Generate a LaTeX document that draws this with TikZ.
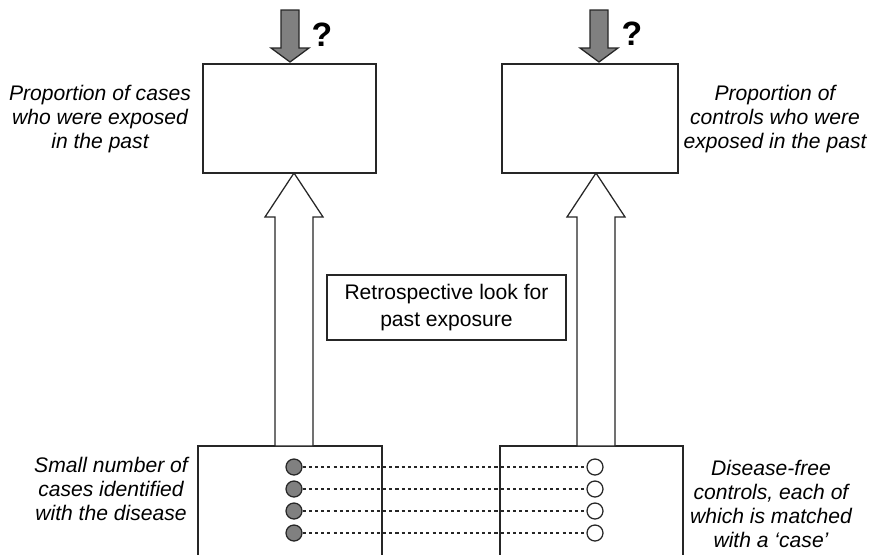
\documentclass[tikz,border=0pt]{standalone}
\usepackage{fontspec}
\setmainfont{Liberation Sans}
\usetikzlibrary{positioning}

\tikzset{
  box/.style={draw=black!85, line width=0.9pt, inner sep=0pt},
  label/.style={align=center, font=\itshape\fontsize{15}{17}\selectfont},
  hollow/.style={draw=black!85, line width=0.9pt, fill=white},
  gray arrow/.style={draw=black!85, line width=0.9pt, fill=black!50},
  query/.style={font=\bfseries\fontsize{24}{24}\selectfont, inner sep=0pt},
  case/.style={circle, draw=black!85, line width=0.9pt, fill=black!50, minimum size=0.4cm, inner sep=0pt},
  control/.style={circle, draw=black!85, line width=0.9pt, fill=white, minimum size=0.4cm, inner sep=0pt},
  match/.style={black!85, line width=2.1pt, dash pattern=on 2.2pt off 2.2pt}
}

\begin{document}
\begin{tikzpicture}[x=0.025cm, y=-0.025cm]
        \useasboundingbox (0,0) rectangle (877,554);
        \clip (0,0) rectangle (877,554);

        % Define the boxes
        \node[box, minimum width=4.325cm, minimum height=2.725cm] (casepast) at (289.5,118.5) {};
        \node[box, minimum width=4.4cm, minimum height=2.725cm] (ctrlpast) at (590,118.5) {};
        \node[box, minimum width=4.6cm, minimum height=3.1cm] (casenow) at (290,508) {};
        \node[box, minimum width=4.575cm, minimum height=3.1cm] (ctrlnow) at (591.5,508) {};
        \node[box, minimum width=5.975cm, minimum height=1.625cm, align=center,
              font=\fontsize{15}{19}\selectfont] (look) at (446.5,307.5)
              {Retrospective look for\\past exposure};

        % Labels
        \node[label] (casepastlbl) at (100,119) {Proportion of cases\\who were exposed\\in the past};
        \node[label] (ctrlpastlbl) at (775,119) {Proportion of\\controls who were\\exposed in the past};
        \node[label] (casenowlbl) at (111,489) {Small number of\\cases identified\\with the disease};
        \node[label] (ctrlnowlbl) at (771,504) {Disease-free\\controls, each of\\which is matched\\with a `case'};

        % Hollow arrows up
        \coordinate (upL) at (294,446);
        \coordinate (upR) at (596,446);
        \foreach \c in {upL, upR}
          \draw[hollow] (\c) ++(-19,0) -- ++(0,-229) -- ++(-10,0) -- ++(29,-44)
                -- ++(29,44) -- ++(-10,0) -- ++(0,229) -- cycle;

        % Gray arrows down
        \coordinate (downL) at (290,62);
        \coordinate (downR) at (599,62);
        \foreach \c in {downL, downR}
          \draw[gray arrow] (\c) -- ++(19,-14) -- ++(-10,0) -- ++(0,-38) -- ++(-18,0)
                -- ++(0,38) -- ++(-10,0) -- cycle;
        \node[query] (qL) at (322,35) {?};
        \node[query] (qR) at (632,34) {?};

        % Matched pairs
        \foreach \y [count=\i] in {467,489,511,533} {
          \node[case] (c\i) at (294,\y) {};
          \node[control] (k\i) at (595,\y) {};
          \draw[match] (c\i) -- (k\i);
        }
\end{tikzpicture}
\end{document}
